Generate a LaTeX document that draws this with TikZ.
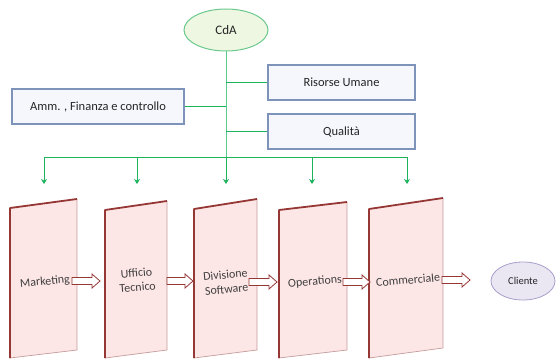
\documentclass[tikz,border=0pt]{standalone}
\usepackage{fontspec}
\setmainfont{Carlito}
\usetikzlibrary{shapes.geometric,shadows,arrows.meta}
\definecolor{gline}{HTML}{1DB35C}
\definecolor{gtrunk}{HTML}{5CCB8C}
\definecolor{boxfill}{HTML}{F5F7FD}
\definecolor{boxdraw}{HTML}{7E93B9}
\definecolor{pfill}{HTML}{FDE6E6}
\definecolor{pdark}{HTML}{953735}
\definecolor{plight}{HTML}{C59C9B}
\definecolor{cdafill}{HTML}{EEF7E2}
\definecolor{cdadraw}{HTML}{6CC98E}
\definecolor{clifill}{HTML}{EAE6F2}
\definecolor{clidraw}{HTML}{A89ECB}
\definecolor{txt}{HTML}{262626}
\definecolor{ptxt}{HTML}{404040}
\newcommand\mypanel[6]{%
  \fill[pfill] (#1,#3) -- (#2,#4) -- (#2,#5) -- (#1,#6) -- cycle;
  \draw[plight, line width=0.7pt] (#2,#4) -- (#2,#5) -- (#1,#6);
  \draw[pdark, line width=1.8pt, line join=round] (#1,#6) -- (#1,#3) -- (#2,#4);
}
% hollow block arrow from x=#1 to x=#2 at height #3
\newcommand\harr[3]{%
  \draw[hollowarr] (#1,#3-3.5) -- (#2-8,#3-3.5) -- (#2-8,#3-7) -- (#2,#3)
    -- (#2-8,#3+7) -- (#2-8,#3+3.5) -- (#1,#3+3.5) -- cycle;
}
\begin{document}
\begin{tikzpicture}[x=1pt,y=-1pt,
  font=\fontsize{12.5}{14}\selectfont,
  orgbox/.style={rectangle, draw=boxdraw, line width=1.2pt, fill=boxfill,
    minimum height=35pt, inner sep=0pt, text=txt,
    drop shadow={shadow xshift=1pt, shadow yshift=-1.2pt, fill=gray!60, opacity=0.5}},
  gconn/.style={draw=gline, line width=0.9pt},
  gtr/.style={draw=gtrunk, line width=0.9pt},
  garrow/.style={draw=gline, line width=0.9pt, -{Stealth[length=5pt,width=6pt]}},
  ptext/.style={rotate=5, text=ptxt, align=center, inner sep=0pt, font=\fontsize{12}{14.5}\selectfont},
  hollowarr/.style={draw=pdark, fill=white, line width=0.8pt, line join=miter},
]
\useasboundingbox (0,0) rectangle (557,361);

% top nodes
\node[ellipse, draw=cdadraw, line width=1pt, fill=cdafill, minimum width=84pt,
  minimum height=42pt, inner sep=0pt, text=txt, font=\fontsize{13}{15}\selectfont] (cda) at (226,30) {CdA};
\node[orgbox, minimum width=172pt] (amm) at (98,106.5) {Amm. , Finanza e controllo};
\node[orgbox, minimum width=147pt] (ris) at (341.5,82.5) {Risorse Umane};
\node[orgbox, minimum width=147pt] (qual) at (341.5,131.5) {Qualità};

% bus coordinates
\coordinate (bus) at (226,157);
\coordinate (j1) at (44,157);
\coordinate (j2) at (137,157);
\coordinate (j3) at (226,157);
\coordinate (j4) at (312,157);
\coordinate (j5) at (407,157);
\coordinate (t1) at (44,184);
\coordinate (t2) at (137,184);
\coordinate (t3) at (226,184);
\coordinate (t4) at (312,184);
\coordinate (t5) at (407,184);

% connectors
\draw[gtr] (cda.south) -- (bus);
\draw[gconn] (amm.east) -- (amm.east -| cda.south);
\draw[gconn] (ris.west) -- (ris.west -| cda.south);
\draw[gconn] (qual.west) -- (qual.west -| cda.south);
\draw[gconn] (j1) -- (j5);
\foreach \i in {1,...,5} { \draw[garrow] (j\i) -- (t\i); }

% panels
\mypanel{10}{77}{208}{199}{350}{358}
\mypanel{105}{167}{210}{201}{350}{358}
\mypanel{194}{257}{209}{199}{350}{358}
\mypanel{279}{347}{210}{202}{350}{358}
\mypanel{369}{443}{209}{198}{348}{358}

\node[ptext] (mkt) at (45,282) {Marketing};
\node[ptext] (uff) at (137,280) {Ufficio\\Tecnico};
\node[ptext] (div) at (226,282) {Divisione\\Software};
\node[ptext] (ops) at (315,282) {Operations};
\node[ptext] (com) at (408,280) {Commerciale};

\node[ellipse, draw=clidraw, line width=0.8pt, fill=clifill, minimum width=64pt,
  minimum height=38pt, inner sep=0pt, text=txt, font=\fontsize{10.5}{12}\selectfont] (cli) at (523,281) {Cliente};

% hollow arrows
\harr{72}{100}{281}
\harr{167}{193}{281}
\harr{249}{277}{282}
\harr{343}{370}{282}
\harr{442}{470}{280}
\end{tikzpicture}
\end{document}
